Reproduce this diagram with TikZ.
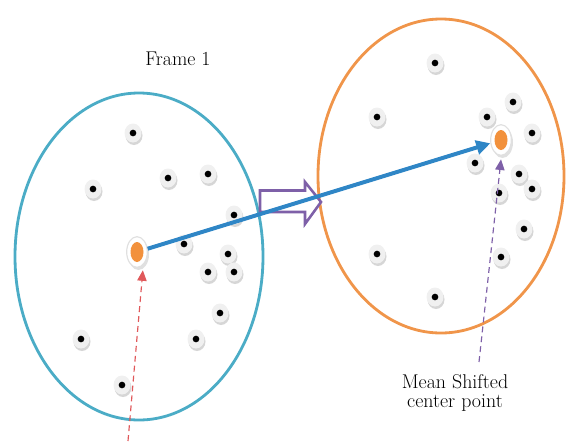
\documentclass[tikz,border=0pt]{standalone}
\usepackage{tikz}
\usetikzlibrary{arrows.meta,shapes.geometric}
\definecolor{frameblue}{RGB}{75,172,198}
\definecolor{frameorange}{RGB}{240,149,74}
\definecolor{shiftblue}{RGB}{47,134,198}
\definecolor{shiftpurple}{RGB}{126,96,168}
\definecolor{meanred}{RGB}{224,88,90}
\definecolor{centerfill}{RGB}{242,145,60}

\begin{document}
\begin{tikzpicture}[x=0.03cm,y=-0.03cm,
	labeltext/.style={font=\fontsize{17}{16.5}\selectfont, align=center},
	centerpt/.style={ellipse, fill=white, draw=black!12, line width=1pt, minimum width=0.62cm, minimum height=0.92cm, inner sep=0pt}]
	\useasboundingbox (0,0) rectangle (568,443);
	% frames
	\draw[frameblue, line width=2.4pt] (139,256.5) ellipse (124 and 163.5);
	\draw[frameorange, line width=2.4pt] (441,176) ellipse (123 and 157);
	% sample points
	\foreach \f/\x/\y [count=\i] in
	{
		l/133/133, l/93/189, l/168/178, l/208/174, l/234/215,
		l/184/244, l/228/254, l/208/272, l/234/272, l/220/313,
		l/81/339, l/196/339, l/122/385,
		r/435/63, r/377/117, r/513/102, r/487/117, r/532/133,
		r/475/163, r/519/174, r/532/189, r/499/193, r/524/229,
		r/377/254, r/501/257, r/435/297
	}
	{
		\fill[black!16] (\x+1,\y+2.5) ellipse (8.5 and 9.5);
		\fill[black!6] (\x,\y) ellipse (8.5 and 9.5);
		\node[circle, fill=black, inner sep=0pt, minimum size=0.2cm] (p\f\i) at (\x,\y) {};
	}
	% purple frame-shift arrow
	\draw[shiftpurple, line width=2.2pt, fill=white, line join=miter]
		(260,190.5) -- (305,190.5) -- (305,182) -- (321,202) -- (305,224) -- (305,212) -- (260,212) -- cycle;
	% mean points
	\fill[black!12] (138.5,254.5) ellipse (10.5 and 15.5);
	\node[centerpt] (c1) at (137,252) {};
	\fill[centerfill] (c1) ellipse (6.5 and 10);
	\fill[black!12] (502.5,142.5) ellipse (10.5 and 15.5);
	\node[centerpt] (c2) at (501,140) {};
	\fill[centerfill] (c2) ellipse (6.5 and 10);
	% shift vector
	\draw[shiftblue, line width=3.4pt, -{Triangle[length=12pt,width=12pt]}] (c1) -- (c2);
	% labels
	\node[labeltext] (frame) at (178,59) {Frame 1};
	\node[labeltext] (mslabel) at (455,393) {Mean Shifted\\center point};
	\coordinate (redstart) at (128,441);
	\coordinate (purplestart) at (479,362);
	\draw[meanred, line width=1pt, dash pattern=on 5pt off 3.5pt, -{Triangle[length=9pt,width=8pt]}]
		(redstart) -- ([xshift=5pt,yshift=-2pt]c1.south);
	\draw[shiftpurple, line width=1pt, dash pattern=on 5pt off 3.5pt, -{Triangle[length=9pt,width=8pt]}]
		(purplestart) -- ([yshift=-3pt]c2.south);
\end{tikzpicture}
\end{document}
